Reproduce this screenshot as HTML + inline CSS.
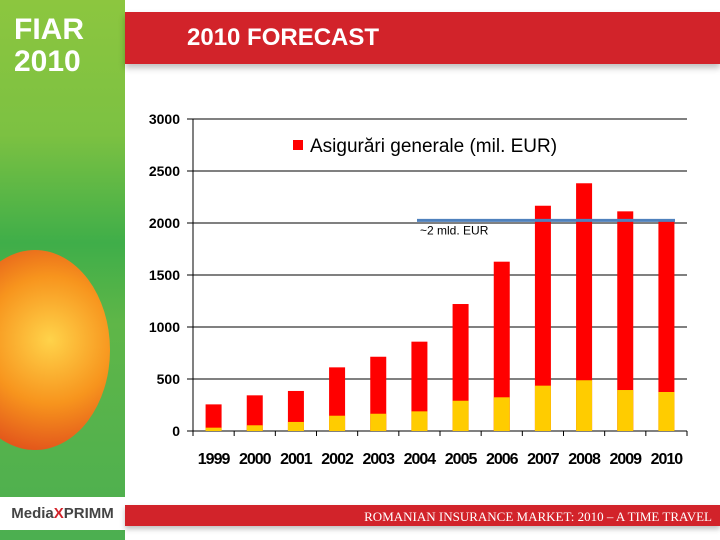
<!DOCTYPE html>
<html><head><meta charset="utf-8"><style>
html,body{margin:0;padding:0}
body{width:720px;height:540px;position:relative;overflow:hidden;background:#fff;font-family:"Liberation Sans",sans-serif}
.side{position:absolute;left:0;top:0;width:125px;height:540px;overflow:hidden;background:linear-gradient(180deg,#8cc63f 0%,#7cc142 25%,#3fae49 45%,#5fb648 60%,#4caf50 100%)}
.poppy{position:absolute;left:-40px;top:250px;width:150px;height:200px;border-radius:50%;background:radial-gradient(circle at 60% 45%,#ffd34a 0%,#f7941d 45%,#e2541b 80%,rgba(226,84,27,0) 100%)}
.hdr{position:absolute;left:125px;top:12px;width:595px;height:52px;background:#d2232a;box-shadow:0 4px 6px rgba(0,0,0,.25)}
.title{position:absolute;left:187px;top:24px;color:#fff;font-weight:bold;font-size:24px}
.foot{position:absolute;left:125px;top:505px;width:595px;height:21px;background:#d2232a;box-shadow:0 3px 5px rgba(0,0,0,.25)}
.foottext{position:absolute;right:8px;top:509px;color:#fff;font-family:"Liberation Serif",serif;font-size:13px}
.logo{position:absolute;left:0;top:497px;width:125px;height:33px;background:#fff;font-size:15px;font-weight:bold;color:#444;line-height:33px;text-align:center}
</style></head><body>
<div class="side">
 <div class="poppy"></div>
 <div style="position:absolute;left:14px;top:14px;color:#fff;font-size:30px;font-weight:bold;line-height:32px">FIAR<br>2010</div>
</div>
<div class="hdr"></div>
<div class="title">2010 FORECAST</div>
<div class="logo">Media<span style="color:#d2232a">X</span>PRIMM</div>
<div class="foot"></div>
<div class="foottext">ROMANIAN INSURANCE MARKET: 2010 – A TIME TRAVEL</div>
<svg id="chart" width="720" height="540" style="position:absolute;left:0;top:0"></svg>
<script>
const categories=["1999","2000","2001","2002","2003","2004","2005","2006","2007","2008","2009","2010"];
const totals=[256,343,385,612,714,859,1221,1628,2166,2382,2112,2029];
const yellowPart=[32,55,87,147,166,189,291,324,436,488,394,375];
const yTicks=[0,500,1000,1500,2000,2500,3000];
const refValue=2025;
const refLabel="~2 mld. EUR";
const legendLabel="Asigurări generale (mil. EUR)";
const svg=document.getElementById('chart');const NS='http://www.w3.org/2000/svg';
const x0=193,x1=687,y0=431,yTop=119,ymax=3000;
const bw=(x1-x0)/categories.length;
const Y=v=>y0-(v/ymax)*(y0-yTop);
const X=i=>x0+bw*(i+0.5);
function mk(t,a,txt){const e=document.createElementNS(NS,t);for(const k in a)e.setAttribute(k,a[k]);if(txt!=null)e.textContent=txt;svg.appendChild(e);return e;}
yTicks.forEach(v=>{
 const l=mk('line',{x1:187,x2:x1,y1:Y(v),y2:Y(v),stroke:'#000','stroke-width':1});
 
 
 const t=mk('text',{x:180,y:Y(v)+5,'text-anchor':'end','font-size':14,'font-weight':'bold','font-family':'Liberation Sans'},v);
 
 
});
const ax=mk('line',{x1:x0,x2:x0,y1:yTop,y2:y0,stroke:'#000'});


categories.forEach((c,i)=>{
 const tk=mk('line',{x1:x0+bw*i,x2:x0+bw*i,y1:y0,y2:y0+5,stroke:'#000'});
 
 
 const r=mk('rect',{x:X(i)-8,y:Y(totals[i]),width:16,height:Y(0)-Y(totals[i]),fill:'#ff0000'});
 
 
 const yb=mk('rect',{x:X(i)-8,y:Y(yellowPart[i]),width:16,height:Y(0)-Y(yellowPart[i]),fill:'#ffcc00'});
 
 
 const t=mk('text',{x:X(i),y:464,'text-anchor':'middle','font-size':16,'font-weight':'bold','font-family':'Liberation Sans Narrow, Liberation Sans','letter-spacing':'-1'},c);
 
 
});
const tk=mk('line',{x1:x1,x2:x1,y1:y0,y2:y0+5,stroke:'#000'});


const ref=mk('line',{x1:417,x2:675,y1:Y(refValue),y2:Y(refValue),stroke:'#4f81bd','stroke-width':3});


const rl=mk('text',{x:420,y:Y(refValue)+14,'font-size':12,'font-family':'Liberation Sans'},refLabel);


const lg=mk('rect',{x:293,y:140,width:10,height:10,fill:'#ff0000'});


const lt=mk('text',{x:310,y:152,'font-size':19,'font-family':'Liberation Sans'},legendLabel);


</script>
</body></html>
